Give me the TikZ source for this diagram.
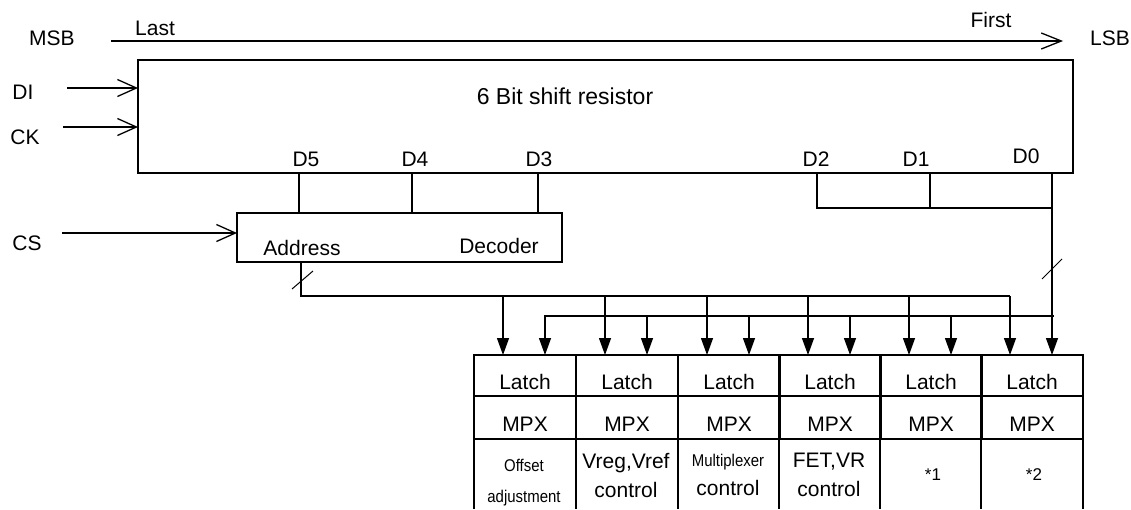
\documentclass[tikz,border=0pt]{standalone}
\usepackage{fontspec}
\setmainfont{Liberation Sans}
\newfontfamily\narrowfont[FakeStretch=0.88]{Liberation Sans}
\usetikzlibrary{arrows.meta,positioning}

\tikzset{
  lbl/.style={anchor=base,inner sep=0pt,font=\fontsize{21}{29}\selectfont},
  cell/.style={draw,inner sep=0pt,outer sep=0pt,minimum width=102pt},
  inarrow/.style={-{Straight Barb[length=19pt,width=17pt]}},
  bitarrow/.style={-{Triangle[length=17pt,width=12pt]}},
  tick/.style={line width=1pt},
}

\begin{document}
\begin{tikzpicture}[x=1pt,y=-1pt,line width=1.3pt]
  \useasboundingbox (0,0) rectangle (1131,509);

  % shift register and decoder
  \node[draw,inner sep=0pt,outer sep=0pt,minimum width=935pt,minimum height=113pt] (reg) at (605.5,116.5) {};
  \node[lbl,font=\fontsize{23}{28}\selectfont] (regtxt) at (565,104) {6 Bit shift resistor};
  \node[draw,inner sep=0pt,outer sep=0pt,minimum width=325pt,minimum height=49pt] (dec) at (399.5,237.5) {};
  \node[lbl] (addr) at (302,255) {Address};
  \node[lbl] (decod) at (499,253) {Decoder};

  % bit order
  \node[lbl] (msb) at (52,45) {MSB};
  \node[lbl] (lsb) at (1110,45) {LSB};
  \node[lbl] (last) at (155,35) {Last};
  \node[lbl] (first) at (991,27) {First};
  \coordinate (ordl) at (111,41);
  \coordinate (ordr) at (1063,41);
  \draw[-{Straight Barb[length=20pt,width=16pt]}] (ordl) -- (ordr);

  % inputs
  \node[lbl] (di) at (23,99) {DI};
  \node[lbl] (ck) at (25,144) {CK};
  \node[lbl] (cs) at (27,250) {CS};
  \coordinate (diin) at (67,88);
  \coordinate (ckin) at (63,127);
  \coordinate (csin) at (62,233);
  \draw[inarrow] (diin) -- (diin -| reg.west);
  \draw[inarrow] (ckin) -- (ckin -| reg.west);
  \draw[inarrow] (csin) -- (csin -| dec.west);

  % register outputs
  \foreach \n/\x/\y in {5/306/166,4/415/166,3/539/166,2/816/166,1/916/166,0/1026/163}
    \node[lbl] (d\n) at (\x,\y) {D\n};
  \foreach \x in {299,412,538}
    \draw (reg.south -| \x,0) -- (dec.north -| \x,0);
  \draw (reg.south -| 817,0) |- (1052,208);
  \draw (reg.south -| 930,0) -- (930,208);

  % latch / mpx table
  \foreach \i/\l in {0/474,1/576,2/678,3/779,4/880,5/981} {
    \node[cell,minimum height=41pt] (latch\i) at (\l+51,375.5) {};
    \node[cell,minimum height=43pt] (mpx\i) at (\l+51,417.5) {};
    \node[lbl] (latchtxt\i) at (\l+51,389) {Latch};
    \node[lbl] (mpxtxt\i) at (\l+51,431) {MPX};
    \draw (mpx\i.south west) -- (mpx\i.south west |- 0,509);
  }
  \draw (mpx5.south east) -- (mpx5.south east |- 0,509);

  \node[align=center,inner sep=0pt,font=\narrowfont\fontsize{17}{31}\selectfont] (func0) at (524,483) {Offset\\adjustment};
  \node[align=center,inner sep=0pt,font=\fontsize{21}{29}\selectfont] (func1) at (626,475) {Vreg,Vref\\control};
  \node[align=center,inner sep=0pt,font=\fontsize{21}{29}\selectfont] (func2) at (728,475) {{\narrowfont\fontsize{17}{29}\selectfont Multiplexer}\\control};
  \node[align=center,inner sep=0pt,font=\fontsize{21}{29}\selectfont] (func3) at (829,475) {FET,VR\\control};
  \node[inner sep=0pt,font=\fontsize{17}{20}\selectfont] (func4) at (933,475) {*1};
  \node[inner sep=0pt,font=\fontsize{17}{20}\selectfont] (func5) at (1034,475) {*2};

  % address bus
  \draw (dec.south -| 301,0) |- (1010,296);
  \draw[tick] (292,289) -- (313,271);
  \foreach \i/\x in {0/503,1/605,2/707,3/808,4/909,5/1010}
    \draw[bitarrow] (\x,296) -- (latch\i.north -| \x,0);

  % data bus
  \draw[bitarrow] (reg.south -| 1052,0) -- (latch5.north -| 1052,0);
  \draw[tick] (1042,279) -- (1062,259);
  \draw (544,316) -- (1054,316);
  \foreach \i/\x in {0/545,1/647,2/749,3/850,4/951}
    \draw[bitarrow] (\x,316) -- (latch\i.north -| \x,0);

\end{tikzpicture}
\end{document}
